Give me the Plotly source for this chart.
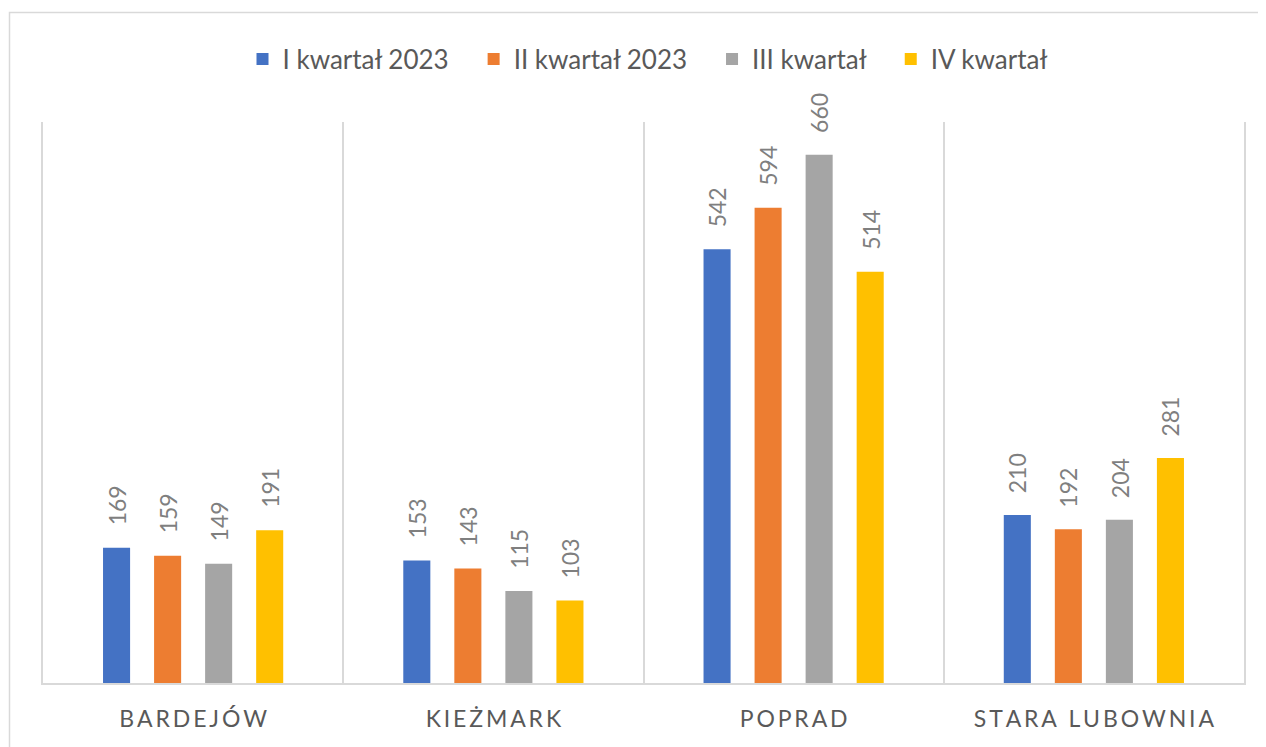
import plotly.graph_objects as go

categories = ["BARDEJÓW", "KIEŻMARK", "POPRAD", "STARA LUBOWNIA"]
series_names = ["I kwartał 2023", "II kwartał 2023", "III kwartał", "IV kwartał"]
q1 = [169, 153, 542, 210]
q2 = [159, 143, 594, 192]
q3 = [149, 115, 660, 204]
q4 = [191, 103, 514, 281]
series_values = [q1, q2, q3, q4]
colors = ["#4472C4", "#ED7D31", "#A5A5A5", "#FFC000"]

# letter-spaced tick labels (thin spaces between letters)
tick_labels = ["\u2009".join(list(c)).replace("\u2009 \u2009", "\u2009\u2009\u2009\u2009") for c in categories]
legend_pad = "\u00a0" * 3

# page body has an 8px default margin
W, H = 1258, 739
ML, MR, MT, MB = 35, 22, 114, 64
bargap = 0.32
plot_w = W - ML - MR
plot_h = H - MT - MB
slot_px = plot_w / len(categories) * (1 - bargap) / len(series_names)

fig = go.Figure()
for name, vals, col in zip(series_names, series_values, colors):
    fig.add_trace(go.Bar(name=name + legend_pad, x=categories, y=vals, marker_color=col,
                         marker_line_width=0))

annotations = []
for i, vals in enumerate(series_values):
    shift = (i - (len(series_names) - 1) / 2) * slot_px
    for c, v in zip(categories, vals):
        annotations.append(dict(x=c, y=v, text=str(v), showarrow=False,
                                textangle=-90, xanchor="center", yanchor="bottom",
                                xshift=shift, yshift=20,
                                font=dict(family="Lato", size=23, color="#7F7F7F")))

fig.update_layout(
    width=W, height=H,
    margin=dict(l=ML, r=MR, t=MT, b=MB, pad=0),
    barmode="group", bargap=bargap, bargroupgap=0.47,
    paper_bgcolor="white", plot_bgcolor="white",
    font=dict(family="Lato", color="#595959"),
    legend=dict(orientation="h", x=0.5 + 14 / plot_w, xanchor="center",
                y=1 + (114 - 51) / plot_h, yanchor="middle",
                font=dict(family="Lato", size=26, color="#595959")),
    annotations=annotations,
    shapes=[dict(type="rect", xref="paper", yref="paper",
                 x0=(1.5 - ML) / plot_w, x1=(W + 5 - ML) / plot_w,
                 y0=-(MB + 5) / plot_h, y1=(plot_h + MT - 4.5) / plot_h,
                 line=dict(color="#D9D9D9", width=1.5), fillcolor="rgba(0,0,0,0)", layer="below")],
)
fig.update_xaxes(type="category", tickson="boundaries", showgrid=True, gridcolor="#D9D9D9",
                 gridwidth=1.5, showline=True, linecolor="#D9D9D9", linewidth=1.5,
                 ticks="", tickvals=categories, ticktext=tick_labels,
                 ticklabelstandoff=15,
                 tickfont=dict(family="Lato", size=23, color="#595959"))
fig.update_yaxes(range=[0, 701], showgrid=False, zeroline=False, showticklabels=False,
                 showline=True, mirror=True, linecolor="#D9D9D9", linewidth=1.5)

fig.write_html("out.html")
